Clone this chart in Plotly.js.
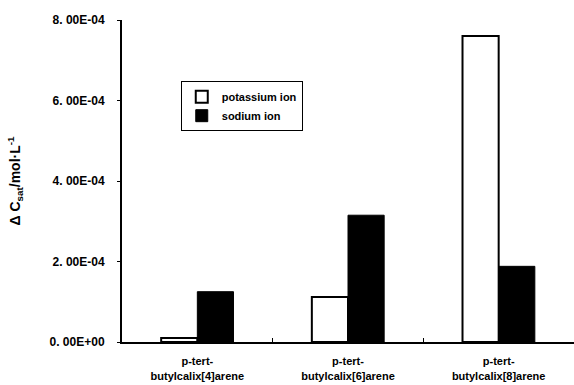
<!DOCTYPE html>
<html>
<head>
<meta charset="utf-8">
<script src="https://cdn.plot.ly/plotly-3.0.1.min.js"></script>
<style>html,body{margin:0;padding:0;background:#fff;}#chart{width:574px;height:385px;}</style>
</head>
<body>
<div id="chart"></div>
<script>
const categories = ["p-tert-<br>butylcalix[4]arene", "p-tert-<br>butylcalix[6]arene", "p-tert-<br>butylcalix[8]arene"];
const potassium = [0.10e-4, 1.12e-4, 7.60e-4];
const sodium = [1.25e-4, 3.15e-4, 1.88e-4];
const yTickVals = [0, 2e-4, 4e-4, 6e-4, 8e-4];
const yTickText = ["0. 00E+00", "2. 00E-04", "4. 00E-04", "6. 00E-04", "8. 00E-04"];

const boldSans = "Liberation Sans, Arial, sans-serif";

const data = [
  {type: "bar", name: "potassium ion", x: categories, y: potassium,
   marker: {color: "#fff", line: {color: "#000", width: 2}}},
  {type: "bar", name: "sodium ion", x: categories, y: sodium,
   marker: {color: "#000", line: {color: "#000", width: 1}}}
];

const layout = {
  width: 574, height: 385,
  margin: {l: 122, r: 0, t: 20, b: 43},
  paper_bgcolor: "#fff", plot_bgcolor: "#fff",
  barmode: "group", bargap: 0.52, bargroupgap: 0,
  showlegend: true,
  legend: {x: 0.13, y: 0.81, xanchor: "left", yanchor: "top",
    bordercolor: "#000", borderwidth: 1, bgcolor: "#fff",
    font: {family: boldSans, size: 11, color: "#000", weight: "bold"},
    tracegroupgap: 4, itemwidth: 20},
  xaxis: {type: "category", showline: true, linecolor: "#000", linewidth: 2,
    ticks: "inside", tickson: "boundaries", ticklen: 4, tickcolor: "#000",
    showgrid: false, tickfont: {family: boldSans, size: 11, color: "#000", weight: "bold"},
    ticklabelstandoff: 8},
  yaxis: {range: [0, 8e-4], tickvals: yTickVals, ticktext: yTickText,
    showline: true, linecolor: "#000", linewidth: 2, ticks: "outside", ticklen: 3, tickcolor: "#000",
    showgrid: false, zeroline: false,
    tickfont: {family: boldSans, size: 12, color: "#000", weight: "bold"},
    ticklabelstandoff: 10,
    title: {text: "Δ C<sub>sat</sub>/mol·L<sup>-1</sup>", standoff: 26,
      font: {family: boldSans, size: 14, color: "#000", weight: "bold"}}}
};

Plotly.newPlot("chart", data, layout, {displayModeBar: false, staticPlot: true});
</script>
</body>
</html>
